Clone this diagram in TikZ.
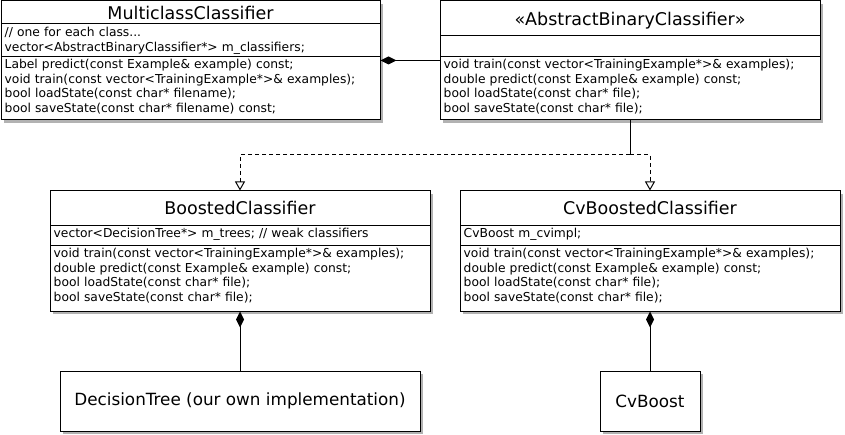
\documentclass[tikz,border=0pt]{standalone}
\usepackage{fontspec}
\setmainfont{DejaVu Sans}
\usetikzlibrary{positioning}
\usetikzlibrary{arrows.meta}
\usetikzlibrary{shadows}

\newcommand{\titlefont}{\fontsize{17.5}{20}\selectfont}
\newcommand{\memberfont}{\fontsize{12.3}{14.5}\selectfont}
\newcommand{\boxfont}{\fontsize{16.8}{20}\selectfont}

\tikzset{
  classbox/.style={draw=black, line width=1pt, fill=white, inner sep=0pt,
    drop shadow={shadow xshift=3pt, shadow yshift=-3pt, fill=black!30, opacity=1}},
  classname/.style={anchor=base, inner sep=0pt, font=\titlefont},
  members/.style={anchor=base west, inner sep=0pt, text width=370pt, align=left, font=\memberfont},
  divider/.style={black, line width=1pt},
  composition/.style={black, line width=1pt, {Diamond[length=16pt,width=8pt]}-},
  realization/.style={black, line width=1pt, dash pattern=on 4pt off 3pt, -{Triangle[open,length=9pt,width=10pt]}},
}

\begin{document}
\begin{tikzpicture}[x=1pt,y=-1pt]
\useasboundingbox (0,0) rectangle (845,435);

%MulticlassClassifier
\node[classbox, minimum width=379pt, minimum height=119pt] (mcc) at (190.5,60.5) {};
\draw[divider] (1,24) -- (380,24);
\draw[divider] (1,56.5) -- (380,56.5);
\node[classname] (mcctitle) at (190.5,19.5) {MulticlassClassifier};
\node[members] (mccattr) at (4.5,37) {// one for each class...\\vector<AbstractBinaryClassifier*> m\_classifiers;};
\node[members] (mccops) at (4.5,69) {Label predict(const Example\& example) const;\\void train(const vector<TrainingExample*>\& examples);\\bool loadState(const char* filename);\\bool saveState(const char* filename) const;};

%AbstractBinaryClassifier
\node[classbox, minimum width=380pt, minimum height=119pt] (abc) at (630,60.5) {};
\draw[divider] (440,36) -- (820,36);
\draw[divider] (440,56.5) -- (820,56.5);
\node[classname] (abctitle) at (630,25.5) {«AbstractBinaryClassifier»};
\node[members] (abcops) at (443.5,69) {void train(const vector<TrainingExample*>\& examples);\\double predict(const Example\& example) const;\\bool loadState(const char* file);\\bool saveState(const char* file);};

%BoostedClassifier
\node[classbox, minimum width=380pt, minimum height=120pt] (bc) at (240,251) {};
\draw[divider] (50,225.5) -- (430,225.5);
\draw[divider] (50,245.5) -- (430,245.5);
\node[classname] (bctitle) at (240,214.5) {BoostedClassifier};
\node[members] (bcattr) at (53.5,238) {vector<DecisionTree*> m\_trees; // weak classifiers};
\node[members] (bcops) at (53.5,258) {void train(const vector<TrainingExample*>\& examples);\\double predict(const Example\& example) const;\\bool loadState(const char* file);\\bool saveState(const char* file);};

%CvBoostedClassifier
\node[classbox, minimum width=380pt, minimum height=120pt] (cvbc) at (650,251) {};
\draw[divider] (460,225.5) -- (840,225.5);
\draw[divider] (460,245.5) -- (840,245.5);
\node[classname] (cvbctitle) at (650,214.5) {CvBoostedClassifier};
\node[members] (cvbcattr) at (463.5,238) {CvBoost m\_cvimpl;};
\node[members] (cvbcops) at (463.5,258) {void train(const vector<TrainingExample*>\& examples);\\double predict(const Example\& example) const;\\bool loadState(const char* file);\\bool saveState(const char* file);};

%parts
\node[classbox, font=\boxfont, minimum width=360pt, minimum height=60pt, below=59pt of bc] (dt) {DecisionTree (our own implementation)};
\node[classbox, font=\boxfont, minimum width=100pt, minimum height=60pt, below=59pt of cvbc] (cvb) {CvBoost};

%connectors
\coordinate (split) at (630,155);
\draw[composition] (mcc.east) -- (abc.west);
\draw[divider] (abc.south) -- (split);
\draw[realization] (split) -| (bc.north);
\draw[realization] (split) -| (cvbc.north);
\draw[composition] (bc.south) -- (dt.north);
\draw[composition] (cvbc.south) -- (cvb.north);

\end{tikzpicture}
\end{document}
